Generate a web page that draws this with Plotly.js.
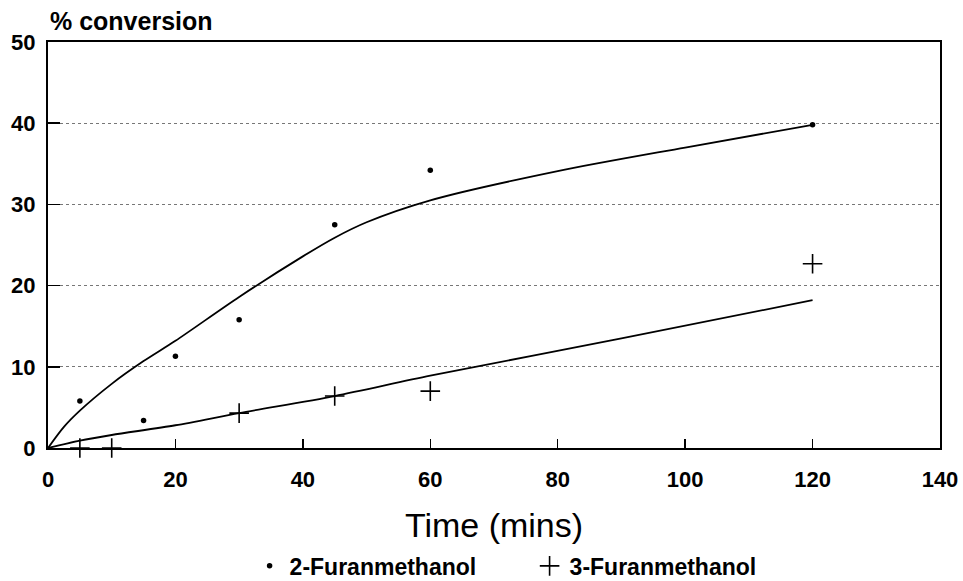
<!DOCTYPE html>
<html>
<head>
<meta charset="utf-8">
<script src="https://cdn.plot.ly/plotly-3.0.1.min.js"></script>
<style>html,body{margin:0;padding:0;background:#fff;}#chart{width:963px;height:581px;}</style>
</head>
<body>
<div id="chart"></div>
<script>
// Measured points
const furan2Time = [5, 15, 20, 30, 45, 60, 120];
const furan2Conv = [5.8, 3.4, 11.3, 15.8, 27.5, 34.2, 39.8];
const furan3Time = [5, 10, 30, 45, 60, 120];
const furan3Conv = [0, 0, 4.3, 6.4, 7.0, 22.7];
// Fitted curves
const fit2Time = [0, 2.5, 5, 10, 15, 20, 30, 40, 45, 50, 60, 80, 100, 120];
const fit2Conv = [0, 2.6, 4.6, 7.9, 10.7, 13.2, 18.6, 23.6, 25.9, 27.8, 30.5, 34.1, 37.0, 39.8];
const fit3Time = [0, 5, 10, 20, 30, 45, 60, 90, 120];
const fit3Conv = [0, 0.9, 1.6, 2.8, 4.3, 6.4, 8.9, 13.5, 18.2];
// Labels
const seriesNames = ['2-Furanmethanol', '3-Furanmethanol'];
const xTitle = 'Time (mins)';
const yTitle = '% conversion';

const FONT = 'Liberation Sans, Arial, sans-serif';

const traces = [
  {x: fit2Time, y: fit2Conv, mode: 'lines', line: {color: '#000', width: 1.8, shape: 'spline', smoothing: 0.8}, showlegend: false, hoverinfo: 'skip'},
  {x: fit3Time, y: fit3Conv, mode: 'lines', line: {color: '#000', width: 1.8, shape: 'spline', smoothing: 0.8}, showlegend: false, hoverinfo: 'skip'},
  {x: furan2Time, y: furan2Conv, mode: 'markers', name: seriesNames[0], cliponaxis: false,
   marker: {symbol: 'circle', size: 5.5, color: '#000'}},
  {x: furan3Time, y: furan3Conv, mode: 'markers', name: seriesNames[1], cliponaxis: false,
   marker: {symbol: 'cross-thin-open', size: 14, color: '#000', line: {color: '#000', width: 1.6}}}
];

const layout = {
  width: 963, height: 581,
  margin: {l: 48, r: 23, t: 42, b: 133, autoexpand: false},
  paper_bgcolor: '#fff', plot_bgcolor: '#fff',
  font: {family: FONT, color: '#000'},
  showlegend: true,
  legend: {orientation: 'h', x: 0.226, xanchor: 'left', yref: 'container', y: 0.063, yanchor: 'top',
    font: {family: FONT, size: 23, color: '#000', weight: 'bold'}, entrywidth: 235, bgcolor: 'rgba(0,0,0,0)'},
  xaxis: {
    range: [0, 140], dtick: 20, tick0: 0,
    showline: true, linecolor: '#000', linewidth: 2, mirror: true,
    ticks: 'inside', ticklen: 9, tickwidth: 1.5, tickcolor: '#000',
    showgrid: false, zeroline: false,
    tickfont: {family: FONT, size: 22, weight: 'bold'},
    ticklabelstandoff: 11,
    title: {text: xTitle, font: {family: FONT, size: 34}, standoff: 25}
  },
  yaxis: {
    range: [0, 50], dtick: 10, tick0: 0,
    showline: true, linecolor: '#000', linewidth: 2, mirror: true,
    ticks: 'inside', ticklen: 12, tickwidth: 1.5, tickcolor: '#000',
    showgrid: true, gridcolor: '#777', gridwidth: 1, griddash: 'dot',
    zeroline: false,
    tickfont: {family: FONT, size: 22, weight: 'bold'},
    ticklabelstandoff: 6
  },
  annotations: [{
    text: yTitle, xref: 'paper', yref: 'paper', x: 0, y: 1.052,
    xanchor: 'left', yanchor: 'middle', showarrow: false,
    font: {family: FONT, size: 25, weight: 'bold', color: '#000'}
  }]
};

Plotly.newPlot('chart', traces, layout, {displayModeBar: false, staticPlot: true});
</script>
</body>
</html>
